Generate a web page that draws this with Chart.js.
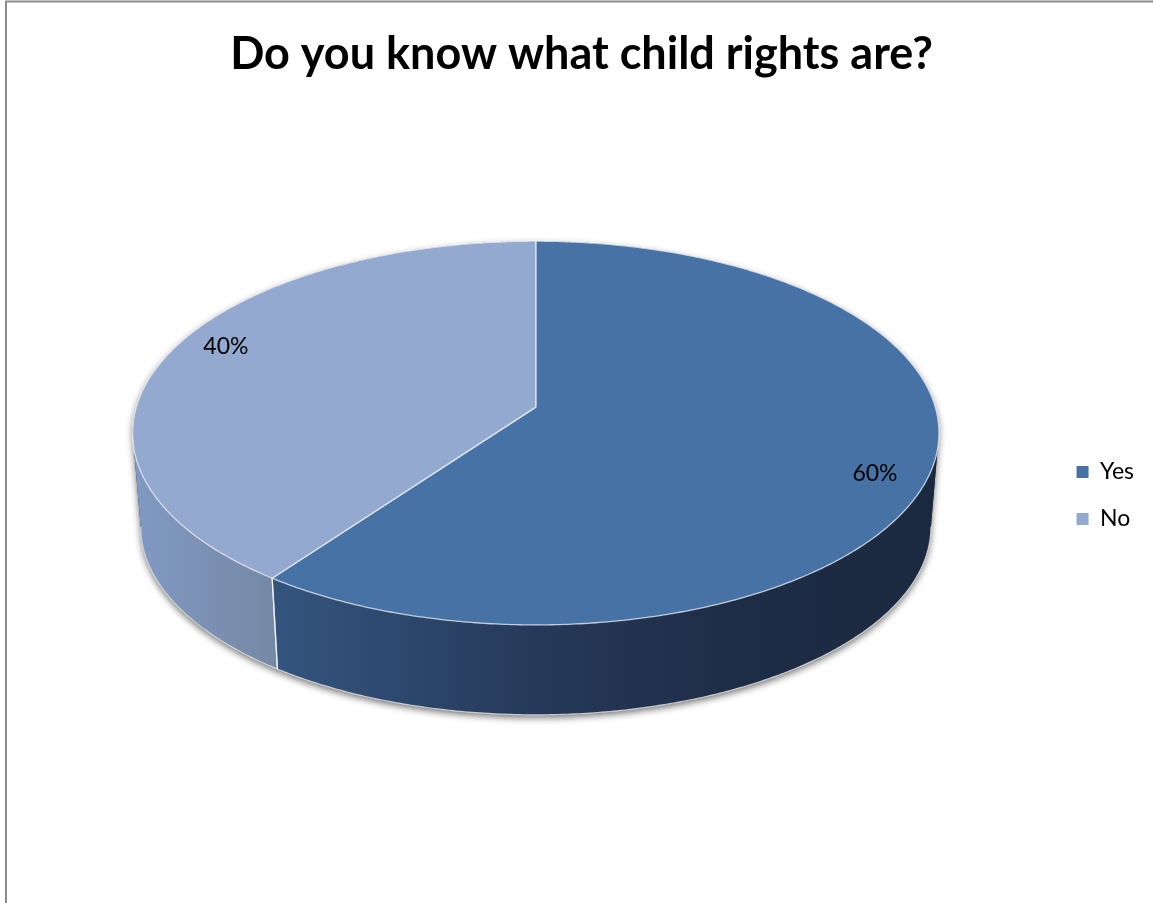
<!DOCTYPE html>
<html>
<head>
<meta charset="utf-8">
<title>Do you know what child rights are?</title>
<script src="https://cdn.jsdelivr.net/npm/chart.js@4.4.1/dist/chart.umd.min.js"></script>
<style>
  html, body { margin: 0; padding: 0; background: #fff; overflow: hidden; }
  #wrap { position: relative; width: 1153px; height: 903px; }
</style>
</head>
<body>
<div id="wrap"><canvas id="rightsChart"></canvas></div>
<script>
// ---- survey answers ----
const answers = ["Yes", "No"];
const shares = [60, 40];

// top face colour per slice, plus the shading stops for its outer wall
const topColors = ["#4672a6", "#93a9cf"];
const wallStops = [0, 0.17, 0.5, 0.75, 1];
const wallColors = [
  ["#3c6092", "#34557f", "#26395a", "#1e2d46", "#1b2940"],
  ["#8199c2", "#7588a6", "#66789a", "#5c6d8c", "#566684"],
];

// ---- 3D pie plugin: tilts the pie disc and gives it a wall ----
const pie3d = {
  id: "pie3d",

  geometry(chart, opts) {
    const arc = chart.getDatasetMeta(0).data[0];
    const R = arc.outerRadius;
    const p = opts.perspective;
    const t = opts.tilt;
    const k = opts.shrink;
    const depth = opts.depth * R;
    const up = (t * R) / (1 + p);
    const down = depth + (k * t * R) / (1 - p);
    // centre the whole solid on the plot, then lift it a bit
    const cy = arc.y + opts.lift - (down - up) / 2;
    return { cx: arc.x, cy, R, p, t, k, depth };
  },

  // angle in chart terms (0 = right, clockwise) -> screen point
  project(g, phi, r, lower) {
    const X = r * Math.cos(phi);
    const Z = -r * Math.sin(phi);
    const w = 1 + g.p * Z;
    const s = lower ? g.k : 1;
    return {
      x: g.cx + (s * g.R * X) / w,
      y: g.cy - (s * g.R * g.t * Z) / w + (lower ? g.depth : 0),
    };
  },

  curve(g, a, b, lower) {
    const n = Math.max(2, Math.ceil(Math.abs(b - a) / (Math.PI / 360)));
    const pts = [];
    for (let i = 0; i <= n; i++) {
      pts.push(this.project(g, a + ((b - a) * i) / n, 1, lower));
    }
    return pts;
  },

  trace(ctx, pts, moveFirst) {
    pts.forEach((pt, i) => {
      if (i === 0 && moveFirst) ctx.moveTo(pt.x, pt.y);
      else ctx.lineTo(pt.x, pt.y);
    });
  },

  beforeDraw(chart) {
    // chart frame: only the left and top edges show
    const ctx = chart.ctx;
    ctx.save();
    ctx.strokeStyle = "#8c8c8c";
    ctx.lineWidth = 2;
    ctx.beginPath();
    ctx.moveTo(6, chart.height);
    ctx.lineTo(6, 1.5);
    ctx.lineTo(chart.width, 1.5);
    ctx.stroke();
    ctx.restore();
  },

  beforeDatasetsDraw(chart, args, opts) {
    const ctx = chart.ctx;
    const meta = chart.getDatasetMeta(0);
    const g = this.geometry(chart, opts);
    const f0 = Math.asin(g.p);
    const f1 = Math.PI - f0;

    ctx.save();

    // soft shadow under the whole solid
    ctx.beginPath();
    this.trace(ctx, this.curve(g, f0, f1 - 2 * Math.PI, false), true);
    this.trace(ctx, this.curve(g, f1, f0, true), false);
    ctx.closePath();
    ctx.shadowColor = "rgba(0, 0, 0, 0.55)";
    ctx.shadowBlur = 7;
    ctx.shadowOffsetY = 3;
    ctx.fillStyle = "#1b2940";
    ctx.fill();
    ctx.shadowColor = "transparent";

    // outer walls, only where they face the viewer
    meta.data.forEach((arc, i) => {
      const a = Math.max(arc.startAngle, f0);
      const b = Math.min(arc.endAngle, f1);
      if (a >= b) return;
      const grad = ctx.createLinearGradient(g.cx - g.R, 0, g.cx + g.R, 0);
      wallStops.forEach((s, j) => grad.addColorStop(s, wallColors[i][j]));
      ctx.beginPath();
      this.trace(ctx, this.curve(g, a, b, false), true);
      this.trace(ctx, this.curve(g, b, a, true), false);
      ctx.closePath();
      ctx.fillStyle = grad;
      ctx.fill();

      // light rim along the bottom edge
      ctx.beginPath();
      this.trace(ctx, this.curve(g, a, b, true), true);
      ctx.strokeStyle = "rgba(225, 225, 225, 0.85)";
      ctx.lineWidth = 1.2;
      ctx.stroke();
    });

    // vertical seams where slices meet on the wall
    ctx.strokeStyle = "rgba(255, 255, 255, 0.75)";
    ctx.lineWidth = 1.3;
    meta.data.forEach((arc) => {
      [arc.startAngle, arc.endAngle].forEach((phi) => {
        const n = ((phi % (2 * Math.PI)) + 2 * Math.PI) % (2 * Math.PI);
        if (n <= f0 || n >= f1) return;
        const t0 = this.project(g, n, 1, false);
        const t1 = this.project(g, n, 1, true);
        ctx.beginPath();
        ctx.moveTo(t0.x, t0.y);
        ctx.lineTo(t1.x, t1.y);
        ctx.stroke();
      });
    });

    // top faces
    meta.data.forEach((arc) => {
      const c = this.project(g, 0, 0, false);
      ctx.beginPath();
      ctx.moveTo(c.x, c.y);
      this.trace(ctx, this.curve(g, arc.startAngle, arc.endAngle, false), false);
      ctx.closePath();
      ctx.fillStyle = arc.options.backgroundColor;
      ctx.fill();
      ctx.strokeStyle = "rgba(255, 255, 255, 0.7)";
      ctx.lineWidth = 1.3;
      ctx.lineJoin = "round";
      ctx.stroke();
    });

    // percentage labels
    const total = shares.reduce((s, v) => s + v, 0);
    ctx.font = opts.labelFont;
    ctx.fillStyle = "#000";
    ctx.textAlign = "center";
    ctx.textBaseline = "middle";
    meta.data.forEach((arc, i) => {
      const mid = (arc.startAngle + arc.endAngle) / 2 + opts.labelTurn;
      const pt = this.project(g, mid, opts.labelRadius, false);
      ctx.fillText(Math.round((shares[i] / total) * 100) + "%", pt.x, pt.y);
    });

    ctx.restore();
    return false;
  },
};

const ctx = document.getElementById("rightsChart");
new Chart(ctx, {
  type: "pie",
  data: {
    labels: answers,
    datasets: [
      {
        data: shares,
        backgroundColor: topColors,
        borderWidth: 0,
      },
    ],
  },
  options: {
    responsive: true,
    maintainAspectRatio: false,
    animation: false,
    layout: { padding: { left: 19, right: 9, top: 0, bottom: 8 } },
    plugins: {
      title: {
        display: true,
        text: "Do you know what child rights are?",
        color: "#000",
        font: { family: "Lato", size: 45, weight: "bold" },
        padding: { top: 27, bottom: 15 },
      },
      legend: {
        display: true,
        position: "right",
        fullSize: false,
        labels: {
          color: "#000",
          font: { family: "Lato", size: 23 },
          boxWidth: 12,
          boxHeight: 12,
          padding: 24,
        },
      },
      tooltip: { enabled: false },
      pie3d: {
        perspective: 0.135,
        tilt: 0.4715,
        shrink: 0.98,
        depth: 0.236,
        lift: -17.5,
        labelRadius: 0.877,
        labelTurn: 0.077,
        labelFont: "23px Lato",
      },
    },
  },
  plugins: [pie3d],
});
</script>
</body>
</html>
